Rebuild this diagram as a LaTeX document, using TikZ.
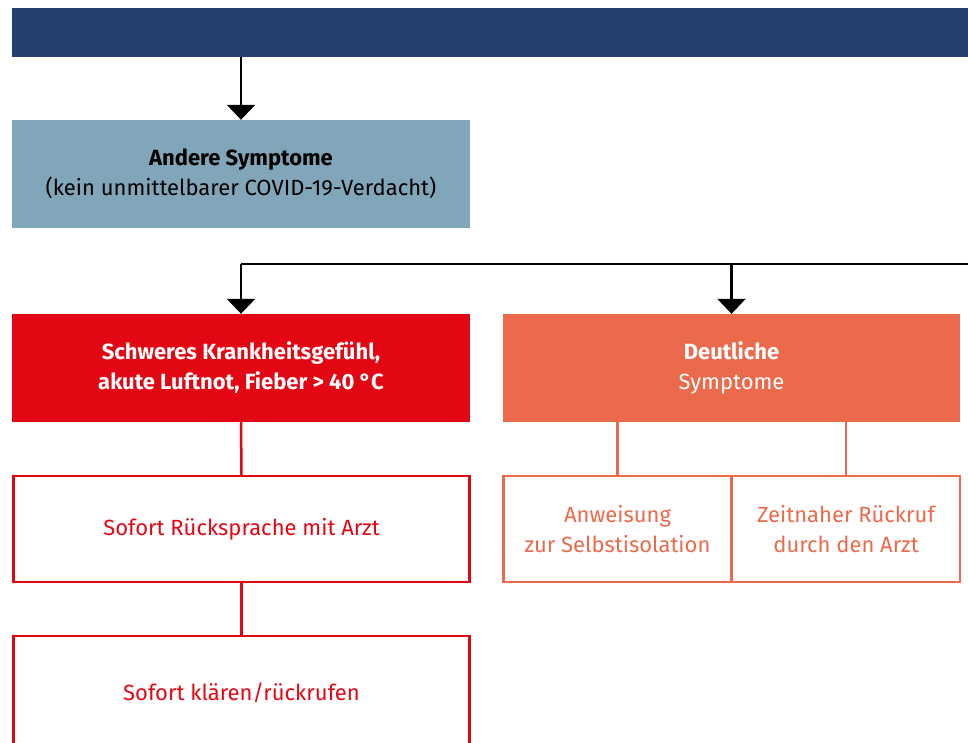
\documentclass[tikz,border=0pt]{standalone}
\usepackage{fontspec}
\setmainfont{Fira Sans}
\usetikzlibrary{arrows.meta, positioning}

\definecolor{navy}{HTML}{233F6E}
\definecolor{graublau}{HTML}{82A6B9}
\definecolor{rot}{HTML}{E30613}
\definecolor{orange}{HTML}{EC6A4C}

\tikzset{
    box/.style={rectangle, inner sep=0pt, align=center,
        minimum width=458pt, minimum height=108pt,
        font=\fontsize{22}{30}\selectfont},
    fillbox/.style={box, fill=#1},
    linebox/.style={box, draw=#1, text=#1, line width=2.5pt,
        minimum width=456pt, minimum height=106pt},
    pfeil/.style={-{Triangle[width=28pt,length=15pt]}, line width=2.5pt},
}

\begin{document}
\begin{tikzpicture}[x=1pt, y=-1pt]
    \useasboundingbox (0,0) rectangle (968,742);

    % Kopfzeile und erste Stufe
    \path (496,32.5) node [box, fill=navy, minimum width=968pt, minimum height=49pt] (kopf) {}
        (241,174) node [fillbox=graublau] (andere)
            {\textbf{Andere Symptome}\\(kein unmittelbarer COVID-19-Verdacht)};
    \draw[pfeil] (kopf.south -| andere.north) -- (andere.north);

    % zweite Stufe
    \path (241,368) node [fillbox=rot, text=white] (schwer)
            {\textbf{Schweres Krankheitsgefühl,}\\\textbf{akute Luftnot, Fieber > 40~°C}}
        (731.5,368) node [fillbox=orange, text=white, minimum width=457pt] (deutlich)
            {\textbf{Deutliche}\\Symptome};

    \coordinate (ast) at (241,264);
    \coordinate (rechts) at (975,264);
    \draw[line width=2.5pt] (ast) -- (rechts);
    \draw[pfeil] (ast) -- (schwer.north);
    \draw[pfeil] (ast -| deutlich.north) -- (deutlich.north);

    % roter Zweig
    \path (241.5,529) node [linebox=rot] (ruecksprache) {Sofort Rücksprache mit Arzt}
        (241.5,693) node [linebox=rot, minimum height=114pt] (klaeren) {Sofort klären/rückrufen};
    \draw[rot, line width=2.5pt] (schwer.south) -- (ruecksprache.north);
    \draw[rot, line width=2.5pt] (ruecksprache.south) -- (klaeren.north);

    % oranger Zweig
    \path (617.5,529) node [linebox=orange, minimum width=228pt] (anweisung)
            {Anweisung\\zur Selbstisolation}
        (846,529) node [linebox=orange, minimum width=228pt] (rueckruf)
            {Zeitnaher Rückruf\\durch den Arzt};
    \draw[orange, line width=2.5pt] (anweisung.north) -- (anweisung.north |- deutlich.south);
    \draw[orange, line width=2.5pt] (rueckruf.north) -- (rueckruf.north |- deutlich.south);
\end{tikzpicture}
\end{document}
